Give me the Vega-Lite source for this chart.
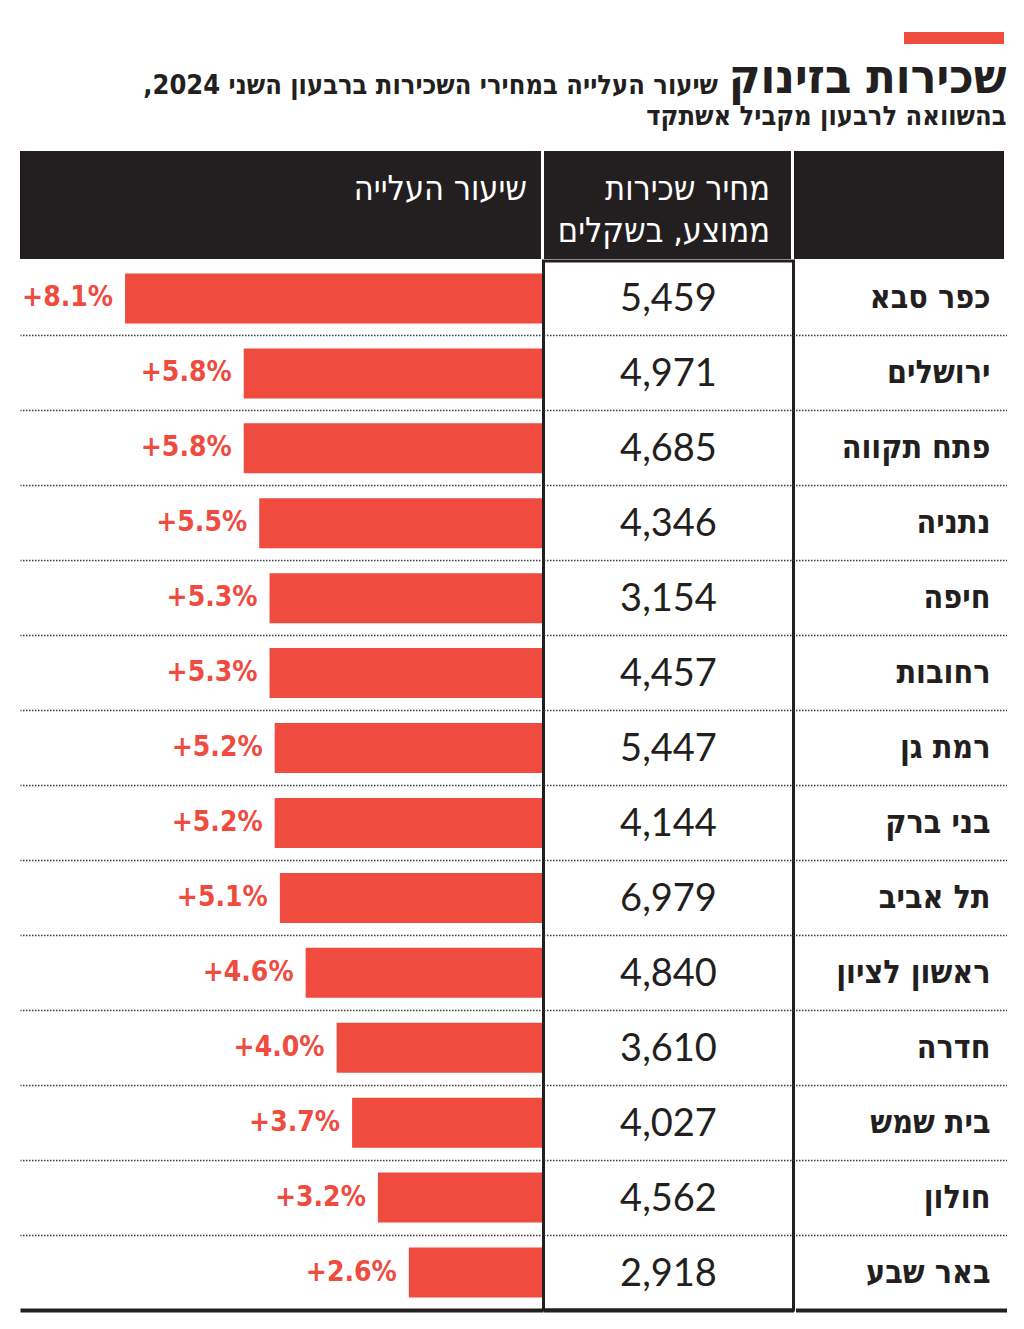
{
  "$schema": "https://vega.github.io/schema/vega-lite/v6.json",
  "background": "white",
  "padding": {"left": 20, "top": 32, "right": 20, "bottom": 20},
  "spacing": 11,
  "datasets": {
    "rents": [
      {"city": "כפר סבא", "price": 5459, "rise": 0.081},
      {"city": "ירושלים", "price": 4971, "rise": 0.058},
      {"city": "פתח תקווה", "price": 4685, "rise": 0.058},
      {"city": "נתניה", "price": 4346, "rise": 0.055},
      {"city": "חיפה", "price": 3154, "rise": 0.053},
      {"city": "רחובות", "price": 4457, "rise": 0.053},
      {"city": "רמת גן", "price": 5447, "rise": 0.052},
      {"city": "בני ברק", "price": 4144, "rise": 0.052},
      {"city": "תל אביב", "price": 6979, "rise": 0.051},
      {"city": "ראשון לציון", "price": 4840, "rise": 0.046},
      {"city": "חדרה", "price": 3610, "rise": 0.040},
      {"city": "בית שמש", "price": 4027, "rise": 0.037},
      {"city": "חולון", "price": 4562, "rise": 0.032},
      {"city": "באר שבע", "price": 2918, "rise": 0.026}
    ],
    "blank": [{}]
  },
  "config": {
    "view": {"stroke": null},
    "axisY": {
      "orient": "left",
      "labels": false,
      "ticks": false,
      "domain": false,
      "title": null,
      "grid": true,
      "bandPosition": 1,
      "gridColor": {"condition": {"test": "datum.value === 'באר שבע'", "value": "#231f20"}, "value": "#3a3a3a"},
      "gridWidth": {"condition": {"test": "datum.value === 'באר שבע'", "value": 4}, "value": 1.5},
      "gridDash": {"condition": {"test": "datum.value === 'באר שבע'", "value": []}, "value": [1.5, 1.5]}
    }
  },
  "vconcat": [
    {
      "spacing": 0,
      "hconcat": [
        {"data": {"name": "blank"}, "width": 884, "height": 12, "mark": {"type": "text", "text": ""}},
        {"data": {"name": "blank"}, "width": 100, "height": 12, "view": {"fill": "#ef4b3f", "stroke": null}, "mark": {"type": "text", "text": ""}}
      ]
    },
    {
      "spacing": 0,
      "title": {
        "text": "שכירות בזינוק",
        "subtitle": "בהשוואה לרבעון מקביל אשתקד",
        "anchor": "end",
        "frame": "bounds",
        "orient": "top",
        "baseline": "top",
        "offset": -58,
        "font": "DejaVu Sans Condensed",
        "fontSize": 48,
        "fontWeight": "bold",
        "color": "#231f20",
        "subtitleFont": "DejaVu Sans Condensed",
        "subtitleFontSize": 27,
        "subtitleFontWeight": "bold",
        "subtitleColor": "#231f20",
        "subtitlePadding": 1
      },
      "vconcat": [
        {
          "spacing": 3,
          "title": {
            "text": "\u202bשיעור העלייה במחירי השכירות ברבעון השני 2024,\u202c",
            "anchor": "end",
            "frame": "bounds",
            "orient": "top",
            "baseline": "top",
            "offset": 51,
            "dx": -286,
            "font": "DejaVu Sans Condensed",
            "fontSize": 27,
            "fontWeight": "bold",
            "color": "#231f20"
          },
          "hconcat": [
            {
              "data": {"name": "blank"},
              "width": 521, "height": 108,
              "view": {"fill": "#231f20", "stroke": null},
              "title": {"text": "שיעור העלייה", "anchor": "end", "orient": "top", "baseline": "top", "offset": -56, "dx": -14, "font": "DejaVu Sans Condensed", "fontSize": 34, "fontWeight": "normal", "color": "white"},
              "mark": {"type": "text", "text": ""}
            },
            {
              "data": {"name": "blank"},
              "width": 247, "height": 108,
              "view": {"fill": "#231f20", "stroke": null},
              "title": {"text": ["מחיר שכירות", "ממוצע, בשקלים"], "anchor": "end", "orient": "top", "baseline": "top", "offset": -98, "dx": -21, "lineHeight": 42, "font": "DejaVu Sans Condensed", "fontSize": 34, "fontWeight": "normal", "color": "white"},
              "mark": {"type": "text", "text": ""}
            },
            {
              "data": {"name": "blank"},
              "width": 210, "height": 108,
              "view": {"fill": "#231f20", "stroke": null},
              "mark": {"type": "text", "text": ""}
            }
          ]
        },
        {
          "spacing": -1.5,
          "hconcat": [
            {
              "data": {"name": "rents"},
              "width": 523, "height": 1049,
              "encoding": {
                "y": {"field": "city", "type": "nominal", "sort": null, "scale": {"type": "band", "paddingInner": 0, "paddingOuter": 0}},
                "x": {"field": "rise", "type": "quantitative", "scale": {"domain": [0, 0.10136], "reverse": true, "nice": false}, "axis": null}
              },
              "layer": [
                {"mark": {"type": "bar", "color": "#ef4b3f", "height": {"band": 0.667}}},
                {
                  "mark": {"type": "text", "align": "right", "baseline": "middle", "dx": -12, "font": "DejaVu Sans Condensed", "fontWeight": "bold", "fontSize": 28, "color": "#ef4b3f"},
                  "encoding": {"text": {"field": "rise", "type": "quantitative", "format": "+.1%"}}
                }
              ]
            },
            {
              "data": {"name": "rents"},
              "width": 250, "height": 1049,
              "view": {"stroke": "#231f20", "strokeWidth": 3},
              "mark": {"type": "text", "align": "center", "baseline": "middle", "dy": 2, "font": "Lato", "fontSize": 38, "color": "#231f20"},
              "encoding": {
                "y": {"field": "city", "type": "nominal", "sort": null, "scale": {"type": "band", "paddingInner": 0, "paddingOuter": 0}},
                "x": {"datum": 0.5, "type": "quantitative", "scale": {"domain": [0, 1]}, "axis": null},
                "text": {"field": "price", "type": "quantitative", "format": ","}
              }
            },
            {
              "data": {"name": "rents"},
              "width": 211, "height": 1049,
              "mark": {"type": "text", "align": "right", "baseline": "middle", "dx": -16, "font": "DejaVu Sans Condensed", "fontWeight": "bold", "fontSize": 32, "color": "#231f20"},
              "encoding": {
                "y": {"field": "city", "type": "nominal", "sort": null, "scale": {"type": "band", "paddingInner": 0, "paddingOuter": 0}},
                "x": {"datum": 1, "type": "quantitative", "scale": {"domain": [0, 1]}, "axis": null},
                "text": {"field": "city", "type": "nominal"}
              }
            }
          ]
        }
      ]
    }
  ]
}
